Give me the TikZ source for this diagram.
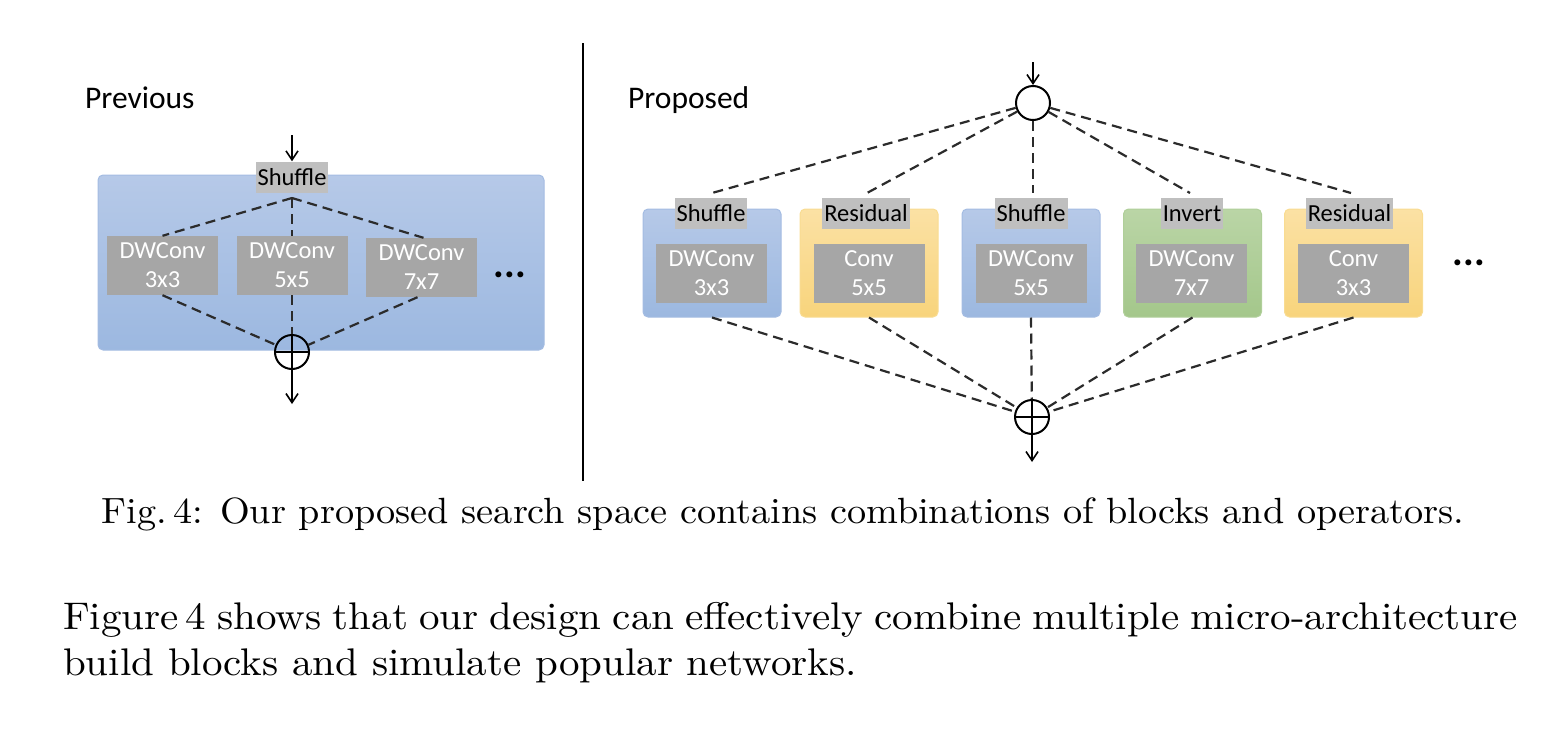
\documentclass[tikz,border=0pt]{standalone}
\usepackage{fontspec}
\setmainfont{lmroman10-regular.otf}[BoldFont=lmroman10-bold.otf, ItalicFont=lmroman10-italic.otf]
\newfontfamily\calibri{Carlito}
\usetikzlibrary{arrows.meta}
\definecolor{blueTop}{HTML}{B6C9E8}
\definecolor{blueBot}{HTML}{9CB8E0}
\definecolor{blueEdge}{HTML}{A4BCE2}
\definecolor{yelTop}{HTML}{FBE1A4}
\definecolor{yelBot}{HTML}{F8D47C}
\definecolor{yelEdge}{HTML}{F9DC92}
\definecolor{grnTop}{HTML}{BAD5A6}
\definecolor{grnBot}{HTML}{A4C78B}
\definecolor{grnEdge}{HTML}{B0CF9A}
\definecolor{labGray}{HTML}{BFBFBF}
\definecolor{opGray}{HTML}{A6A6A6}
\definecolor{lineGray}{HTML}{2B2B2B}
\tikzset{
  bluebox/.style={rounded corners=5pt, draw=blueEdge, line width=1pt, top color=blueTop, bottom color=blueBot},
  yelbox/.style={rounded corners=5pt, draw=yelEdge, line width=1pt, top color=yelTop, bottom color=yelBot},
  grnbox/.style={rounded corners=5pt, draw=grnEdge, line width=1pt, top color=grnTop, bottom color=grnBot},
  blockbox/.style={minimum width=138pt, minimum height=108pt, inner sep=0pt},
  labbox/.style={fill=labGray, minimum height=31pt, inner xsep=2pt, inner ysep=0pt, font=\calibri\fontsize{24.5}{28}\selectfont, text=black},
  opbox/.style={fill=opGray, minimum width=111pt, minimum height=59pt, inner sep=0pt, align=center, font=\calibri\fontsize{24.5}{29}\selectfont, text=white},
  dashline/.style={draw=lineGray, line width=2.2pt, dash pattern=on 10pt off 6pt},
  ring/.style={circle, draw=black, line width=2pt, minimum size=34pt, inner sep=0pt},
  flow/.style={draw=black, line width=1.6pt, -{Straight Barb[length=9pt,width=12pt,line width=1.6pt]}},
  heading/.style={font=\calibri\fontsize{31.5}{36}\selectfont, anchor=base west, inner sep=0pt},
  dots/.style={font=\calibri\bfseries\fontsize{40}{40}\selectfont, inner sep=0pt},
  bodytext/.style={inner sep=0pt, font=\fontsize{38.5}{46}\selectfont},
}
\begin{document}
\begin{tikzpicture}[x=1pt,y=-1pt]
\useasboundingbox (0,0) rectangle (1547,739);

% ---------- left panel ----------
\node[heading] (prev) at (85,108) {Previous};
\node[bluebox, minimum width=446pt, minimum height=175pt, inner sep=0pt] (lbox) at (321,262.5) {};
\node[labbox] (lshuf) at (292,177) {Shuffle};
\node[opbox] (lop1) at (162.5,265.5) {DWConv\\3x3};
\node[opbox] (lop2) at (292,265.5) {DWConv\\5x5};
\node[opbox] (lop3) at (421.5,267.5) {DWConv\\7x7};
\node[dots] (ldots) at (510,275) {...};
\node[ring] (lplus) at (292,352) {};
\draw[line width=2pt] (lplus.north) -- (lplus.south) (lplus.west) -- (lplus.east);
\coordinate (lapex) at (292,198);
\coordinate (lin) at (292,135);
\coordinate (lout) at (292,404);
\draw[flow] (lin) -- (lshuf.north);
\draw[flow] (lplus.south) -- (lout);
\draw[dashline] (lapex) -- (lop1.north);
\draw[dashline] (lapex) -- (lop2.north);
\draw[dashline] (lapex) -- ([xshift=2pt]lop3.north);
\draw[dashline] (lop1.south) -- (lplus);
\draw[dashline] (lop2.south) -- (lplus.north);
\draw[dashline] ([xshift=-4pt]lop3.south) -- (lplus);

% ---------- divider ----------
\coordinate (divtop) at (583,43);
\coordinate (divbot) at (583,481);
\draw[line width=2.6pt] (divtop) -- (divbot);

% ---------- right panel ----------
\node[heading] (prop) at (628,108) {Proposed};
\node[ring] (split) at (1033,103) {};
\coordinate (rin) at (1033,62);
\draw[flow] (rin) -- (split.north);

\node[bluebox, blockbox] (b1) at (712,263) {};
\node[yelbox, blockbox] (b2) at (869,263) {};
\node[bluebox, blockbox] (b3) at (1031,263) {};
\node[grnbox, blockbox] (b4) at (1192.5,263) {};
\node[yelbox, blockbox] (b5) at (1353.5,263) {};

\node[labbox] (l1) at (711,213.5) {Shuffle};
\node[labbox] (l2) at (866,213.5) {Residual};
\node[labbox] (l3) at (1031,213.5) {Shuffle};
\node[labbox] (l4) at (1192,213.5) {Invert};
\node[labbox] (l5) at (1349.5,213.5) {Residual};

\node[opbox] (o1) at (711.5,273.5) {DWConv\\3x3};
\node[opbox] (o2) at (869,273.5) {Conv\\5x5};
\node[opbox] (o3) at (1031,273.5) {DWConv\\5x5};
\node[opbox] (o4) at (1191.5,273.5) {DWConv\\7x7};
\node[opbox] (o5) at (1353.5,273.5) {Conv\\3x3};
\node[dots] (rdots) at (1469,263) {...};

\node[ring] (rplus) at (1032,417) {};
\draw[line width=2pt] (rplus.north) -- (rplus.south) (rplus.west) -- (rplus.east);
\coordinate (rout) at (1032,462);
\draw[flow] (rplus.south) -- (rout);

\foreach \i/\tx in {1/712,2/867,3/1033,4/1190,5/1351}{
  \coordinate (t\i) at (\tx,193);
  \draw[dashline] (split) -- (t\i);
}
\foreach \i in {1,...,5}{
  \draw[dashline] (b\i.south) -- (rplus);
}

% ---------- caption and text ----------
\node[anchor=base, inner sep=0pt, font=\fontsize{36.5}{43}\selectfont] (cap) at (783,523)
  {\scalebox{1.048}[1]{Fig.\,4: Our proposed search space contains combinations of blocks and operators.}};
\node[bodytext, anchor=base west] (para1) at (63,629)
  {\scalebox{1.065}[1]{\makebox[1366pt][s]{Figure\,4 shows that our design can effectively combine multiple micro-architecture}}};
\node[bodytext, anchor=base west] (para2) at (63,675)
  {\scalebox{1.065}[1]{build blocks and simulate popular networks.}};
\end{tikzpicture}
\end{document}
